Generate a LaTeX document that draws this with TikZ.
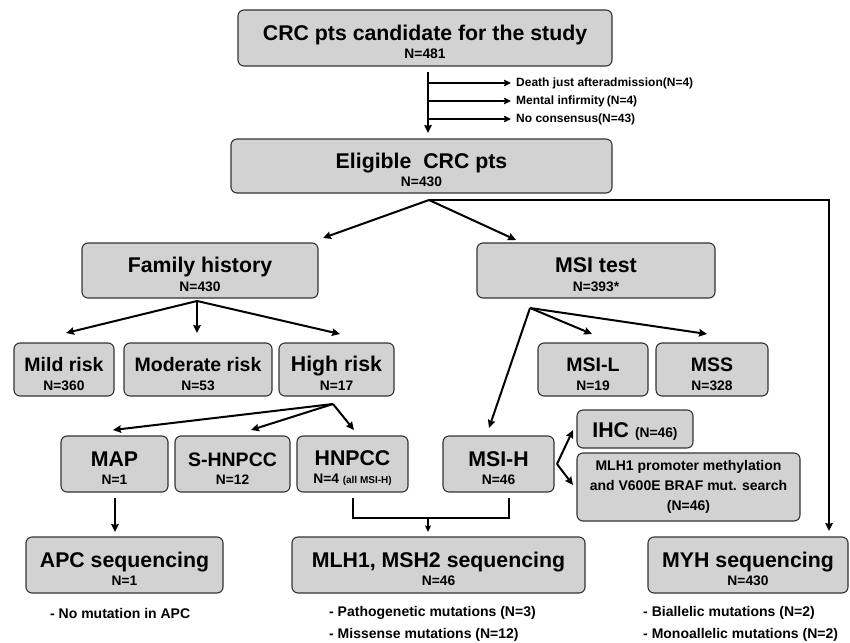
\documentclass[tikz,border=0pt]{standalone}
\usepackage{fontspec}
\setmainfont{Liberation Sans}
\usetikzlibrary{arrows.meta}
\newcommand\Nsub[1]{{\fontsize{13.8}{18.5}\selectfont #1}}
\newcommand\Ntiny[1]{{\fontsize{10}{12}\selectfont #1}}
\newcommand\Tstr{\rule{0pt}{23pt}}
\begin{document}
\begin{tikzpicture}[x=1pt,y=-1pt,
  box/.style={draw=black!80, fill=gray!35, line width=1.1pt, rounded corners=6pt,
    inner sep=0pt, align=center, font=\bfseries\fontsize{21.3}{18.5}\selectfont},
  midbox/.style={box, font=\bfseries\fontsize{19.5}{18.5}\selectfont},
  arr/.style={line width=2pt, -{Stealth[length=8pt,width=7.5pt,inset=1pt]}},
  arrs/.style={line width=2pt, -{Stealth[length=7pt,width=6.5pt,inset=1pt]}},
  thin/.style={line width=1.4pt},
  arrt/.style={line width=1.4pt, -{Stealth[length=6.5pt,width=6pt,inset=1pt]}},
  lab/.style={font=\bfseries\fontsize{12}{14}\selectfont, anchor=west, inner sep=0pt},
  note/.style={font=\bfseries\fontsize{14}{16}\selectfont, anchor=west, inner sep=0pt}
]
\useasboundingbox (0,0) rectangle (850,642);

% boxes
\node[box, minimum width=374pt, minimum height=56pt] (top) at (425,38) {\Tstr CRC pts candidate for the study\\\Nsub{N=481}};
\node[box, minimum width=381pt, minimum height=54pt] (elig) at (421.5,166) {\Tstr Eligible~~CRC pts\\\Nsub{N=430}};
\node[box, minimum width=236pt, minimum height=55pt] (fam) at (200,270.5) {\Tstr Family history\\\Nsub{N=430}};
\node[box, minimum width=238pt, minimum height=55pt] (msi) at (596,270.5) {\Tstr MSI test\\\Nsub{N=393*}};
\node[midbox, minimum width=100pt, minimum height=53pt] (mild) at (64,369.5) {\Tstr Mild risk\\\Nsub{N=360}};
\node[midbox, minimum width=148pt, minimum height=53pt] (mod) at (198,369.5) {\Tstr Moderate risk\\\Nsub{N=53}};
\node[box, minimum width=115pt, minimum height=53pt] (high) at (336.5,369.5) {\Tstr High risk\\\Nsub{N=17}};
\node[midbox, minimum width=110pt, minimum height=53pt] (msil) at (593,369.5) {\Tstr MSI-L\\\Nsub{N=19}};
\node[midbox, minimum width=112pt, minimum height=53pt] (mss) at (712,369.5) {\Tstr MSS\\\Nsub{N=328}};
\node[box, minimum width=107pt, minimum height=56pt] (map) at (114.5,464) {\Tstr MAP\\\Nsub{N=1}};
\node[midbox, minimum width=115pt, minimum height=56pt] (shn) at (232.5,464) {\Tstr S-HNPCC\\\Nsub{N=12}};
\node[box, minimum width=111pt, minimum height=56pt] (hn) at (352.5,464) {\Tstr HNPCC\\\Nsub{N=4 \Ntiny{(all MSI-H)}}};
\node[box, minimum width=111pt, minimum height=56pt] (msih) at (498.5,464) {\Tstr MSI-H\\\Nsub{N=46}};
\node[box, minimum width=116pt, minimum height=38pt] (ihc) at (635,429) {\rule{0pt}{19pt}IHC \Nsub{(N=46)}};
\node[box, minimum width=223pt, minimum height=68pt, font=\bfseries\fontsize{14}{20}\selectfont] (prom) at (688.5,487)
  {MLH1 promoter methylation\\and V600E BRAF mut. search\\(N=46)};
\node[box, minimum width=197pt, minimum height=56pt] (apc) at (124.5,565) {\Tstr APC sequencing\\\Nsub{N=1}};
\node[box, minimum width=293pt, minimum height=56pt] (mlh) at (438.5,565) {\Tstr MLH1, MSH2 sequencing\\\Nsub{N=46}};
\node[box, minimum width=200pt, minimum height=56pt] (myh) at (748,565) {\Tstr MYH sequencing\\\Nsub{N=430}};

% exclusion labels
\node[lab] (x1) at (516,83) {Death just afteradmission(N=4)};
\node[lab] (x2) at (516,101) {Mental infirmity\,(N=4)};
\node[lab] (x3) at (516,119) {No consensus(N=43)};

% bottom notes
\node[note] (n1) at (50,613) {- No mutation in APC};
\node[note] (n2) at (329,613) {- Pathogenetic mutations (N=3)};
\node[note] (n3) at (329,635) {- Missense mutations (N=12)};
\node[note] (n4) at (643,613) {- Biallelic mutations (N=2)};
\node[note] (n5) at (643,635) {- Monoallelic mutations (N=2)};

% coordinates
\coordinate (v0) at (428,72);
\coordinate (v1) at (428,133);
\coordinate (h1) at (428,83);
\coordinate (h2) at (428,101);
\coordinate (h3) at (428,119);
\coordinate (e0) at (429,200);
\coordinate (ef) at (323,238);
\coordinate (em) at (516,240);
\coordinate (r1) at (829,200);
\coordinate (r2) at (829,531);
\coordinate (f0) at (197,301);
\coordinate (f1) at (66,333);
\coordinate (f2) at (197,333);
\coordinate (f3) at (340,334);
\coordinate (m0) at (530,308);
\coordinate (m1) at (592,334);
\coordinate (m2) at (707,334);
\coordinate (m3) at (489,428);
\coordinate (g0) at (333,404);
\coordinate (g1) at (113,430);
\coordinate (g2) at (251,430);
\coordinate (g3) at (354,430);
\coordinate (s0) at (557,464);
\coordinate (s1) at (573,430);
\coordinate (s2) at (573,485);
\coordinate (p0) at (115,498);
\coordinate (p1) at (115,532);
\coordinate (b1) at (353,498);
\coordinate (b2) at (353,518);
\coordinate (b3) at (509,518);
\coordinate (b4) at (509,498);
\coordinate (c0) at (428,518);
\coordinate (c1) at (428,532);

% connectors
\draw[arr] (v0) -- (v1);
\draw[arrs, shorten >=5pt] (h1) -- (x1.west);
\draw[arrs, shorten >=5pt] (h2) -- (x2.west);
\draw[arrs, shorten >=5pt] (h3) -- (x3.west);
\draw[arr] (e0) -- (ef);
\draw[arr] (e0) -- (em);
\draw[arr] (e0) -- (r1) -- (r2);
\draw[arr] (f0) -- (f1);
\draw[arr] (f0) -- (f2);
\draw[arr] (f0) -- (f3);
\draw[arr] (m0) -- (m1);
\draw[arr] (m0) -- (m2);
\draw[arr] (m0) -- (m3);
\draw[arr] (g0) -- (g1);
\draw[arr] (g0) -- (g2);
\draw[arr] (g0) -- (g3);
\draw[arr] (s0) -- (s1);
\draw[arr] (s0) -- (s2);
\draw[arr] (p0) -- (p1);
\draw[thin] (b1) -- (b2) -- (b3) -- (b4);
\draw[arrt] (c0) -- (c1);
\end{tikzpicture}
\end{document}
